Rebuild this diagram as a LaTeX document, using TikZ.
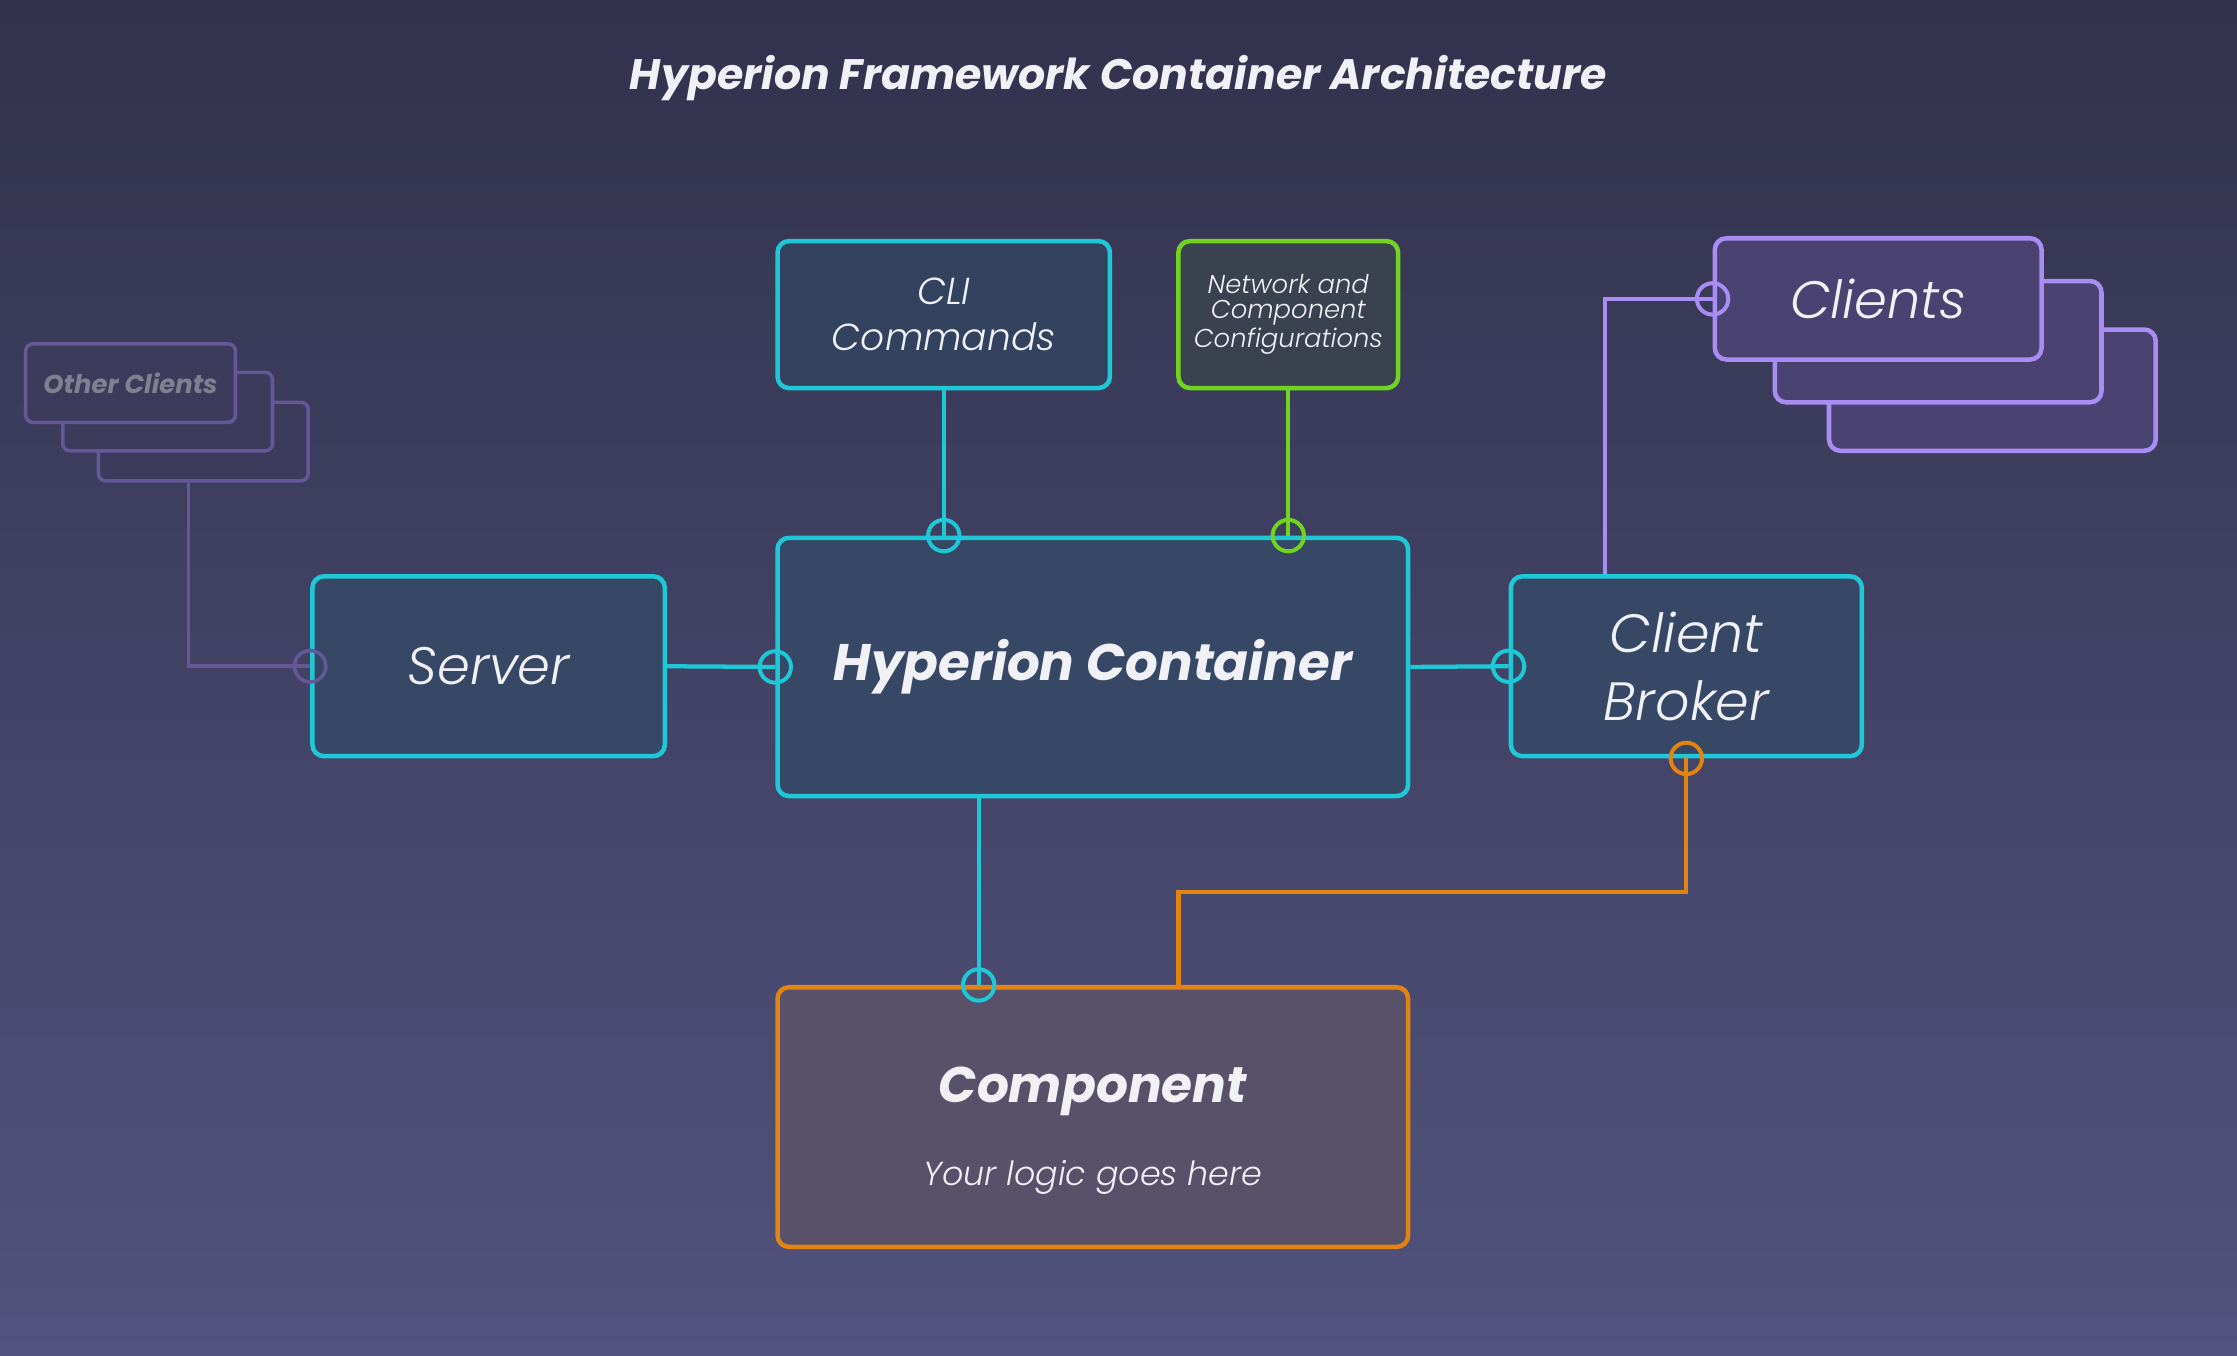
\documentclass[tikz,border=0pt]{standalone}
\usepackage{fontspec}
\setmainfont{Poppins}
\newfontfamily\lightit{Poppins}[UprightFont={* Light Italic}]
\definecolor{bgtop}{RGB}{50,50,77}
\definecolor{bgbot}{RGB}{82,83,126}
\definecolor{txt}{RGB}{240,240,245}
\definecolor{cyanln}{RGB}{30,200,215}
\definecolor{bluefill}{RGB}{55,72,102}
\definecolor{greenln}{RGB}{112,212,32}
\definecolor{greenfill}{RGB}{58,66,80}
\definecolor{orangeln}{RGB}{225,132,18}
\definecolor{compfill}{RGB}{89,80,106}
\definecolor{lavln}{RGB}{170,140,245}
\definecolor{lavfill}{RGB}{74,66,112}
\definecolor{otherln}{RGB}{100,88,152}
\definecolor{otherfill}{RGB}{61,59,92}
\definecolor{othertxt}{RGB}{128,128,145}
\newcommand{\fs}[2]{\fontsize{#1}{#2}\selectfont}
\begin{document}
\begin{tikzpicture}[x=0.2mm, y=-0.2mm,
    box/.style={draw, rounded corners=1.6mm, line width=1.8pt, inner sep=0pt, align=center, text=txt},
    port/.style={circle, draw, line width=1.6pt, minimum size=4.4mm, inner sep=0pt},
    con/.style={line width=1.7pt}]
  \shade[top color=bgtop, bottom color=bgbot] (0,0) rectangle (1568,950);
  \useasboundingbox (0,0) rectangle (1568,950);
  \node[text=txt, font=\fs{17}{19}\bfseries\itshape] (title) at (784,55) {Hyperion Framework Container Architecture};
  % top boxes
  \node[box, draw=cyanln, fill=bluefill!92!black, minimum width=46.6mm, minimum height=20.6mm, font=\fs{15}{18.5}\lightit] (cli) at (661.5,220.5) {CLI\\Commands};
  \node[box, draw=greenln, fill=greenfill, minimum width=30.8mm, minimum height=20.6mm, font=\fs{10.3}{10}\lightit] (net) at (903,220.5) {Network and\\Component\\Configurations};
  % middle row
  \node[box, draw=cyanln, fill=bluefill, minimum width=88.4mm, minimum height=36.2mm, font=\fs{20.5}{24}\bfseries\itshape] (hc) at (766,467.5) {\raisebox{-1.2pt}{Hyperion Container}};
  \node[box, draw=cyanln, fill=bluefill, minimum width=49.4mm, minimum height=25.2mm, font=\fs{21}{24}\lightit] (srv) at (342.5,467) {Server};
  \node[box, draw=cyanln, fill=bluefill, minimum width=49.2mm, minimum height=25.2mm, font=\fs{21.5}{27}\lightit] (brk) at (1182,467) {Client\\Broker};
  \node[box, draw=orangeln, fill=compfill, minimum width=88.4mm, minimum height=36.4mm] (comp) at (766,783) {};
  \node[text=txt, font=\fs{20}{24}\bfseries\itshape] (compname) at (766,765) {Component};
  \node[text=txt, font=\fs{13.3}{17}\lightit] (complogic) at (766,825) {Your logic goes here};
  % client stacks
  \node[box, draw=lavln, fill=lavfill, minimum width=45.8mm, minimum height=17mm] (cl3) at (1396.5,273.5) {};
  \node[box, draw=lavln, fill=lavfill, minimum width=45.8mm, minimum height=17mm] (cl2) at (1358.5,239.5) {};
  \node[box, draw=lavln, fill=lavfill, minimum width=45.8mm, minimum height=17mm, font=\fs{21}{24}\lightit] (cl1) at (1316.5,209.5) {Clients};
  \node[box, draw=otherln, fill=otherfill, line width=1.4pt, rounded corners=1mm, minimum width=29.4mm, minimum height=11mm] (oc3) at (142.5,309.5) {};
  \node[box, draw=otherln, fill=otherfill, line width=1.4pt, rounded corners=1mm, minimum width=29.4mm, minimum height=11mm] (oc2) at (117.5,288.5) {};
  \node[box, draw=otherln, fill=otherfill, line width=1.4pt, rounded corners=1mm, minimum width=29.4mm, minimum height=11mm, text=othertxt, font=\fs{10.3}{12}\bfseries\itshape] (oc1) at (91.5,268.5) {Other Clients};
  % connectors
  \draw[con, cyanln] (cli.south) -- (hc.north -| cli.south) node[port]{};
  \draw[con, greenln] (net.south) -- (hc.north -| net.south) node[port]{};
  \draw[con, cyanln] (srv.east) -- (hc.west) node[port]{};
  \draw[con, cyanln] (hc.east) -- (brk.west) node[port]{};
  \draw[con, cyanln] (hc.south -| 686,0) -- (comp.north -| 686,0) node[port]{};
  \draw[con, orangeln] (brk.south) -- (brk.south |- 0,625) -| (comp.north -| 826,0);
  \node[port, draw=orangeln] at (brk.south) {};
  \draw[con, lavln] (brk.north -| 1125,0) |- (cl1.west) node[port]{};
  \draw[con, otherln, line width=1.4pt] (oc3.south -| 132,0) |- (srv.west) node[port, line width=1.4pt]{};
\end{tikzpicture}
\end{document}
